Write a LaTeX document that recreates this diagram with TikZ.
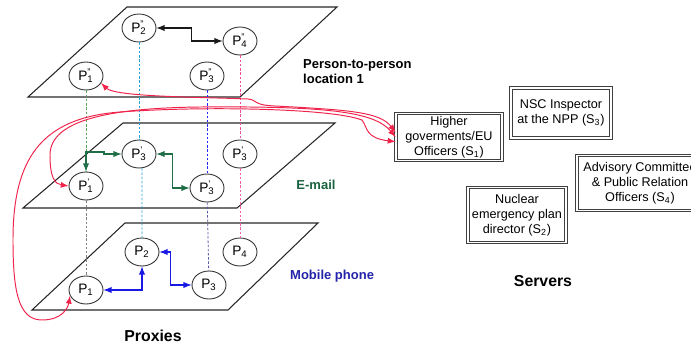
\documentclass[tikz,border=0pt]{standalone}
\usepackage{fontspec}
\setmainfont{Liberation Sans}
\usetikzlibrary{shapes.geometric}

\definecolor{linkred}{RGB}{240,35,75}
\definecolor{mailgreen}{RGB}{30,110,70}
\definecolor{mobblue}{RGB}{25,25,230}
\definecolor{mobtext}{RGB}{35,35,170}

\newcommand{\proxylabel}[2]{P\rlap{\textsuperscript{#1}}\textsubscript{#2}}

\begin{document}
\begin{tikzpicture}[x=0.02cm,y=-0.02cm,
                    font=\fontsize{7.2}{8.5}\selectfont,
                    plane/.style={draw=black!85,line width=0.6pt,line join=miter},
                    proxy/.style={ellipse,draw=black!80,line width=0.5pt,minimum width=0.68cm,minimum height=0.56cm,inner sep=0pt,font=\fontsize{7.8}{9}\selectfont},
                    server/.style={draw=black!75,double,double distance=0.9pt,line width=0.5pt,align=center,inner sep=1pt},
                    layer label/.style={font=\fontsize{7.4}{8.5}\selectfont\bfseries},
                    side label/.style={font=\fontsize{9}{10}\selectfont\bfseries},
                    link/.style={dash pattern=on 1.4pt off 1pt,line width=0.45pt},
                    ptp arrow/.style={latex-latex,black!90,line width=0.6pt},
                    mail arrow/.style={latex-latex,mailgreen,line width=0.6pt},
                    mob arrow/.style={latex-latex,mobblue,line width=0.6pt},
                    red arrow/.style={latex-latex,linkred,line width=0.55pt}]
  \useasboundingbox (0,0) rectangle (691,345);
  \clip (0,0) rectangle (691,345);

  % the three layers
  \draw[plane] (127,7) -- (337,7) -- (240,97) -- (28,97) -- cycle;
  \draw[plane] (123,123) -- (335,123) -- (237,208) -- (23,208) -- cycle;
  \draw[plane] (125,223) -- (318,223) -- (228,310) -- (32,310) -- cycle;

  \node[proxy] (ptp1) at (86,76) {\proxylabel{''}{1}};
  \node[proxy] (ptp2) at (139,28) {\proxylabel{''}{2}};
  \node[proxy] (ptp3) at (207,76) {\proxylabel{''}{3}};
  \node[proxy] (ptp4) at (240,41) {\proxylabel{''}{4}};

  \node[proxy] (mail1) at (86,186) {\proxylabel{'}{1}};
  \node[proxy] (mail2) at (139,154) {\proxylabel{'}{3}};
  \node[proxy] (mail3) at (207,188) {\proxylabel{'}{3}};
  \node[proxy] (mail4) at (240,154) {\proxylabel{'}{3}};

  \node[proxy] (mob1) at (86,290) {P\textsubscript{1}};
  \node[proxy] (mob2) at (142,252) {P\textsubscript{2}};
  \node[proxy] (mob3) at (209,285) {P\textsubscript{3}};
  \node[proxy] (mob4) at (240,252) {P\textsubscript{4}};

  \node[layer label,anchor=north west,align=left] (ptplabel) at (297,53) {Person-to-person\\ location 1};
  \node[layer label,text=mailgreen!90!black] (maillabel) at (316,185) {E-mail};
  \node[layer label,text=mobtext,anchor=west] (moblabel) at (284,276) {Mobile phone};

  % same proxy across the layers
  \draw[link,gray!70!green] (ptp1) -- (mail1);
  \draw[link,gray] (mail1) -- (mob1);
  \draw[link,cyan!75!teal] (ptp2) -- (mail2);
  \draw[link,cyan!70!teal] (mail2) -- (mob2 |- mail2.south) -- (mob2);
  \draw[link,blue!85] (ptp3) -- (mail3);
  \draw[link,gray!70!blue] (mail3) -- (mob3);
  \draw[link,magenta!60!pink] (ptp4) -- (mail4);
  \draw[link,magenta!50!pink] (mail4) -- (mob4);

  \draw[ptp arrow] (ptp2.east) -- ++(35,0) |- (ptp4.west);
  \draw[mail arrow] (mail1.north) |- (104,152) |- (mail2.west);
  \draw[mail arrow] (mail2.east) -- ++(16,0) |- (mail3.west);
  \draw[mob arrow] (mob1.east) -| (mob2.south);
  \draw[mob arrow] (mob2.east) -- ++(11,0) |- (mob3.west);

  \node[server,minimum width=2.12cm,minimum height=0.94cm] (s1) at (449,137) {Higher\\goverments/EU\\Officers (S\textsubscript{1})};
  \node[server,minimum width=2.0cm,minimum height=1.0cm] (s3) at (561,113) {NSC Inspector\\at the NPP (S\textsubscript{3})};
  \node[server,minimum width=1.96cm,minimum height=1.1cm] (s2) at (517,215) {Nuclear\\emergency plan\\director (S\textsubscript{2})};
  \node[server,minimum width=2.52cm,minimum height=1.1cm] (s4) at (640,183) {Advisory Committee\\\& Public Relation\\Officers (S\textsubscript{4})};

  \node[side label] (servers) at (543,281) {Servers};
  \node[side label] (proxies) at (153,336) {Proxies};

  \draw[red arrow] (ptp1.-25) .. controls (115,97) and (200,97) .. (248,99)
    .. controls (258,100) and (252,105) .. (275,106)
    .. controls (350,110) and (380,112) .. (s1.175);
  \draw[red arrow] (mail1.west) .. controls (55,184) and (50,178) .. (50,155)
    .. controls (50,120) and (110,108) .. (200,107)
    .. controls (330,106) and (375,112) .. (s1.180);
  \draw[red arrow] (mob1.200) .. controls (68,308) and (62,320) .. (42,320)
    .. controls (18,320) and (13,290) .. (13,240)
    .. controls (13,160) and (40,118) .. (120,112)
    .. controls (200,106) and (330,108) .. (362,120)
    .. controls (368,128) and (365,138) .. (s1.185);
\end{tikzpicture}
\end{document}
